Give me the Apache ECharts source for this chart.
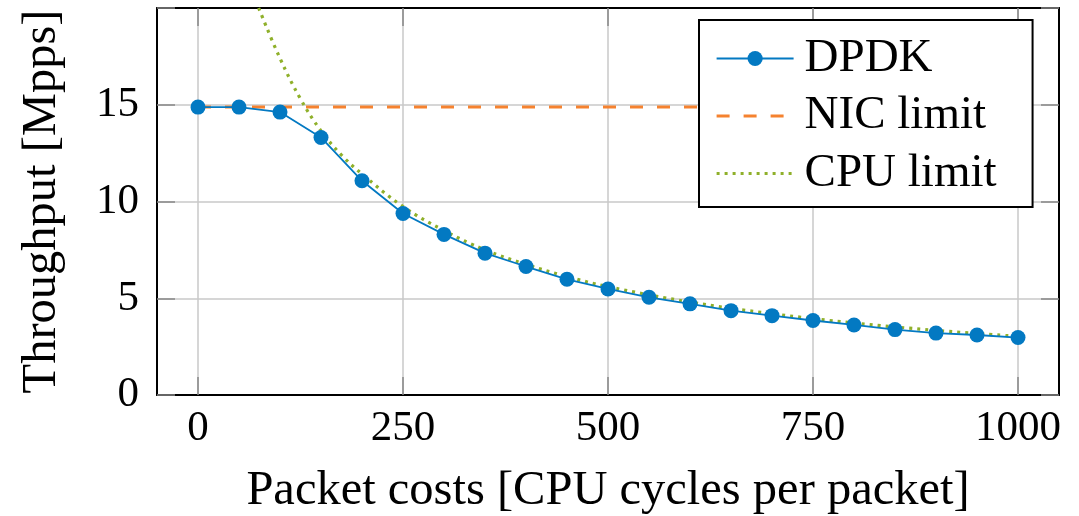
<!DOCTYPE html>
<html>
<head>
<meta charset="utf-8">
<script src="https://cdn.jsdelivr.net/npm/echarts@6/dist/echarts.min.js"></script>
<style>html,body{margin:0;padding:0;background:#fff}#c{width:1079px;height:516px}</style>
</head>
<body>
<div id="c"></div>
<script>
// Data
var xTicks = [0, 250, 500, 750, 1000];
var yTicks = [0, 5, 10, 15];
var dpdkX = [0, 50, 100, 150, 200, 250, 300, 350, 400, 450, 500, 550, 600, 650, 700, 750, 800, 850, 900, 950, 1000];
var dpdkY = [14.88, 14.88, 14.62, 13.31, 11.07, 9.38, 8.3, 7.33, 6.64, 5.98, 5.48, 5.05, 4.71, 4.36, 4.1, 3.85, 3.62, 3.38, 3.2, 3.1, 2.97];
var nicX = [0, 1000];
var nicY = [14.88, 14.88];
var cpuX = [74, 100, 125, 150, 175, 200, 250, 300, 350, 400, 450, 500, 600, 700, 800, 900, 1000];
var cpuY = [20.0, 17.4, 15.3, 13.65, 12.4, 11.42, 9.74, 8.5, 7.5, 6.75, 6.12, 5.6, 4.8, 4.2, 3.72, 3.34, 3.03];

function pairs(xs, ys) { return xs.map(function (x, i) { return [x, ys[i]]; }); }

var FONT = 'Liberation Serif';
var BLUE = '#0379c2', ORANGE = '#f5822f', GREEN = '#8fb02a';
var chart = echarts.init(document.getElementById('c'), null, { renderer: 'canvas' });
var tickStyle = { show: true, inside: true, length: 18, lineStyle: { color: '#888', width: 1.5 } };
var frame = { show: true, onZero: false, lineStyle: { color: '#000', width: 2 } };
var plain = function (v) { return String(v); };

chart.setOption({
  animation: false,
  grid: { left: 157, right: 20, top: 8, bottom: 121, containLabel: false, outerBoundsMode: 'none' },
  legend: {
    orient: 'vertical', left: 699, top: 20,
    backgroundColor: '#fff', borderColor: '#000', borderWidth: 2,
    padding: [15, 36, 10, 16],
    itemWidth: 77, itemHeight: 19, itemGap: 10.5,
    textStyle: { fontFamily: FONT, fontSize: 47, color: '#000', lineHeight: 44, padding: [0, 0, 0, 6] },
    data: [
      { name: 'DPDK', lineStyle: { width: 1.8 } },
      { name: 'NIC limit', lineStyle: { width: 3 }, itemStyle: { color: 'rgba(0,0,0,0)', borderWidth: 0 } },
      { name: 'CPU limit', lineStyle: { width: 3.2 }, itemStyle: { color: 'rgba(0,0,0,0)', borderWidth: 0 } }
    ]
  },
  xAxis: [{
    type: 'value', min: -50, max: 1050, position: 'bottom',
    name: 'Packet costs [CPU cycles per packet]', nameLocation: 'middle', nameGap: 72,
    nameTextStyle: { fontFamily: FONT, fontSize: 48.5, color: '#000' },
    axisLine: frame,
    axisTick: Object.assign({ customValues: xTicks }, tickStyle),
    axisLabel: { customValues: xTicks, formatter: plain, fontFamily: FONT, fontSize: 43, color: '#000', margin: 12 },
    splitLine: { show: true, lineStyle: { color: '#c8c8c8', width: 1.5 } }
  }, {
    type: 'value', min: -50, max: 1050, position: 'top',
    axisLine: frame,
    axisTick: Object.assign({ customValues: xTicks }, tickStyle),
    axisLabel: { show: false },
    splitLine: { show: false }
  }],
  yAxis: [{
    type: 'value', min: 0, max: 20, interval: 5, position: 'left',
    name: 'Throughput [Mpps]', nameLocation: 'middle', nameGap: 90,
    nameTextStyle: { fontFamily: FONT, fontSize: 48.5, color: '#000' },
    axisLine: frame,
    axisTick: tickStyle,
    axisLabel: { fontFamily: FONT, fontSize: 43, color: '#000', margin: 18,
      formatter: function (v) { return yTicks.indexOf(v) >= 0 ? String(v) : ''; } },
    splitLine: { show: true, lineStyle: { color: '#c8c8c8', width: 1.5 } }
  }, {
    type: 'value', min: 0, max: 20, interval: 5, position: 'right',
    axisLine: frame,
    axisTick: tickStyle,
    axisLabel: { show: false },
    splitLine: { show: false }
  }],
  series: [{
    name: 'NIC limit', type: 'line', data: pairs(nicX, nicY), symbol: 'none',
    lineStyle: { color: ORANGE, width: 3, type: [13, 14] }, itemStyle: { color: ORANGE }, z: 2
  }, {
    name: 'CPU limit', type: 'line', data: pairs(cpuX, cpuY), symbol: 'none', smooth: 0.4,
    lineStyle: { color: GREEN, width: 3.2, type: [3, 5] }, itemStyle: { color: GREEN }, z: 3
  }, {
    name: 'DPDK', type: 'line', data: pairs(dpdkX, dpdkY), symbol: 'circle', symbolSize: 15,
    lineStyle: { color: BLUE, width: 1.8 }, itemStyle: { color: BLUE }, z: 4
  }]
});
</script>
</body>
</html>
